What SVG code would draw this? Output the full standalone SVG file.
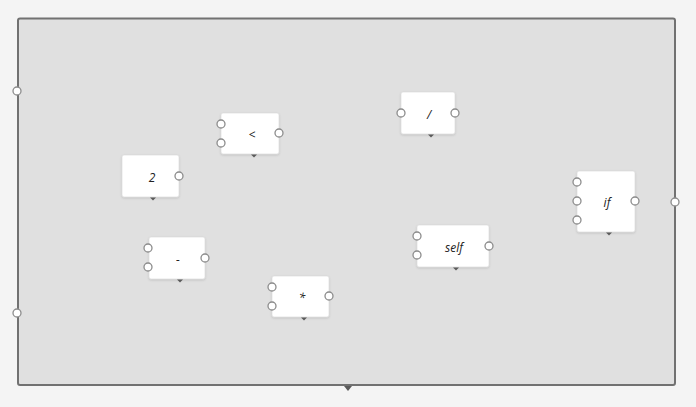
<svg xmlns="http://www.w3.org/2000/svg" width="696" height="407" viewBox="0 0 696 407">
<defs>
<style>
.bg{fill:#f4f4f4}
.frame{fill:#e0e0e0;stroke:#717171;stroke-width:2}
.box{fill:#ffffff;stroke:#d6d6d6;stroke-width:0.6}
.port{fill:#ffffff;stroke:#8c8c8c;stroke-width:1.3}
.tri{fill:#5a5a5a}
.lbl{font-family:"Open Sans","DejaVu Sans",sans-serif;font-style:italic;font-size:12px;fill:#222;text-anchor:middle;dominant-baseline:central}
</style>
<filter id="sh" x="-10%" y="-10%" width="120%" height="130%">
<feDropShadow dx="0" dy="1" stdDeviation="0.8" flood-color="#000" flood-opacity="0.15"/>
</filter>
</defs>
<rect class="bg" x="0" y="0" width="696" height="407"/>
<g id="frame">
<rect class="frame" x="18" y="18.5" width="657" height="366.5" rx="2"/>
<circle class="port" cx="17" cy="91" r="4"/>
<circle class="port" cx="17" cy="313" r="4"/>
<circle class="port" cx="675" cy="202" r="4"/>
<path class="tri" d="M344,386 L352,386 L348,391 Z"/>
</g>
<g id="connectors"></g>
<g id="node-2">
<rect class="box" filter="url(#sh)" x="122" y="155" width="57" height="42" rx="2"/>
<text class="lbl" x="152" y="177">2</text>
<circle class="port" cx="179" cy="176" r="4"/>
<path class="tri" d="M150,197.5 L156,197.5 L153,200.5 Z"/>
</g>
<g id="node-lt">
<rect class="box" filter="url(#sh)" x="221" y="113" width="58" height="41" rx="2"/>
<text class="lbl" x="252" y="134">&lt;</text>
<circle class="port" cx="221" cy="124" r="4"/>
<circle class="port" cx="221" cy="143" r="4"/>
<circle class="port" cx="279" cy="133" r="4"/>
<path class="tri" d="M251,154.5 L257,154.5 L254,157.5 Z"/>
</g>
<g id="node-minus">
<rect class="box" filter="url(#sh)" x="149" y="237" width="56" height="42" rx="2"/>
<text class="lbl" x="178" y="259">-</text>
<circle class="port" cx="148" cy="248" r="4"/>
<circle class="port" cx="148" cy="267" r="4"/>
<circle class="port" cx="205" cy="258" r="4"/>
<path class="tri" d="M177,279.5 L183,279.5 L180,282.5 Z"/>
</g>
<g id="node-mul">
<rect class="box" filter="url(#sh)" x="272" y="276" width="57" height="41" rx="2"/>
<text class="lbl" x="302" y="297">*</text>
<circle class="port" cx="272" cy="287" r="4"/>
<circle class="port" cx="272" cy="306" r="4"/>
<circle class="port" cx="329" cy="296" r="4"/>
<path class="tri" d="M301,317.5 L307,317.5 L304,320.5 Z"/>
</g>
<g id="node-div">
<rect class="box" filter="url(#sh)" x="401" y="92" width="54" height="42" rx="2"/>
<text class="lbl" x="429" y="114">/</text>
<circle class="port" cx="401" cy="113" r="4"/>
<circle class="port" cx="455" cy="113" r="4"/>
<path class="tri" d="M428,134.5 L434,134.5 L431,137.5 Z"/>
</g>
<g id="node-self">
<rect class="box" filter="url(#sh)" x="417" y="225" width="72" height="42" rx="2"/>
<text class="lbl" x="454" y="247">self</text>
<circle class="port" cx="417" cy="236" r="4"/>
<circle class="port" cx="417" cy="255" r="4"/>
<circle class="port" cx="489" cy="246" r="4"/>
<path class="tri" d="M453,267.5 L459,267.5 L456,270.5 Z"/>
</g>
<g id="node-if">
<rect class="box" filter="url(#sh)" x="577" y="171" width="58" height="61" rx="2"/>
<text class="lbl" x="607" y="202">if</text>
<circle class="port" cx="577" cy="182" r="4"/>
<circle class="port" cx="577" cy="201" r="4"/>
<circle class="port" cx="577" cy="220" r="4"/>
<circle class="port" cx="635" cy="201" r="4"/>
<path class="tri" d="M606,232.5 L612,232.5 L609,235.5 Z"/>
</g>
</svg>
